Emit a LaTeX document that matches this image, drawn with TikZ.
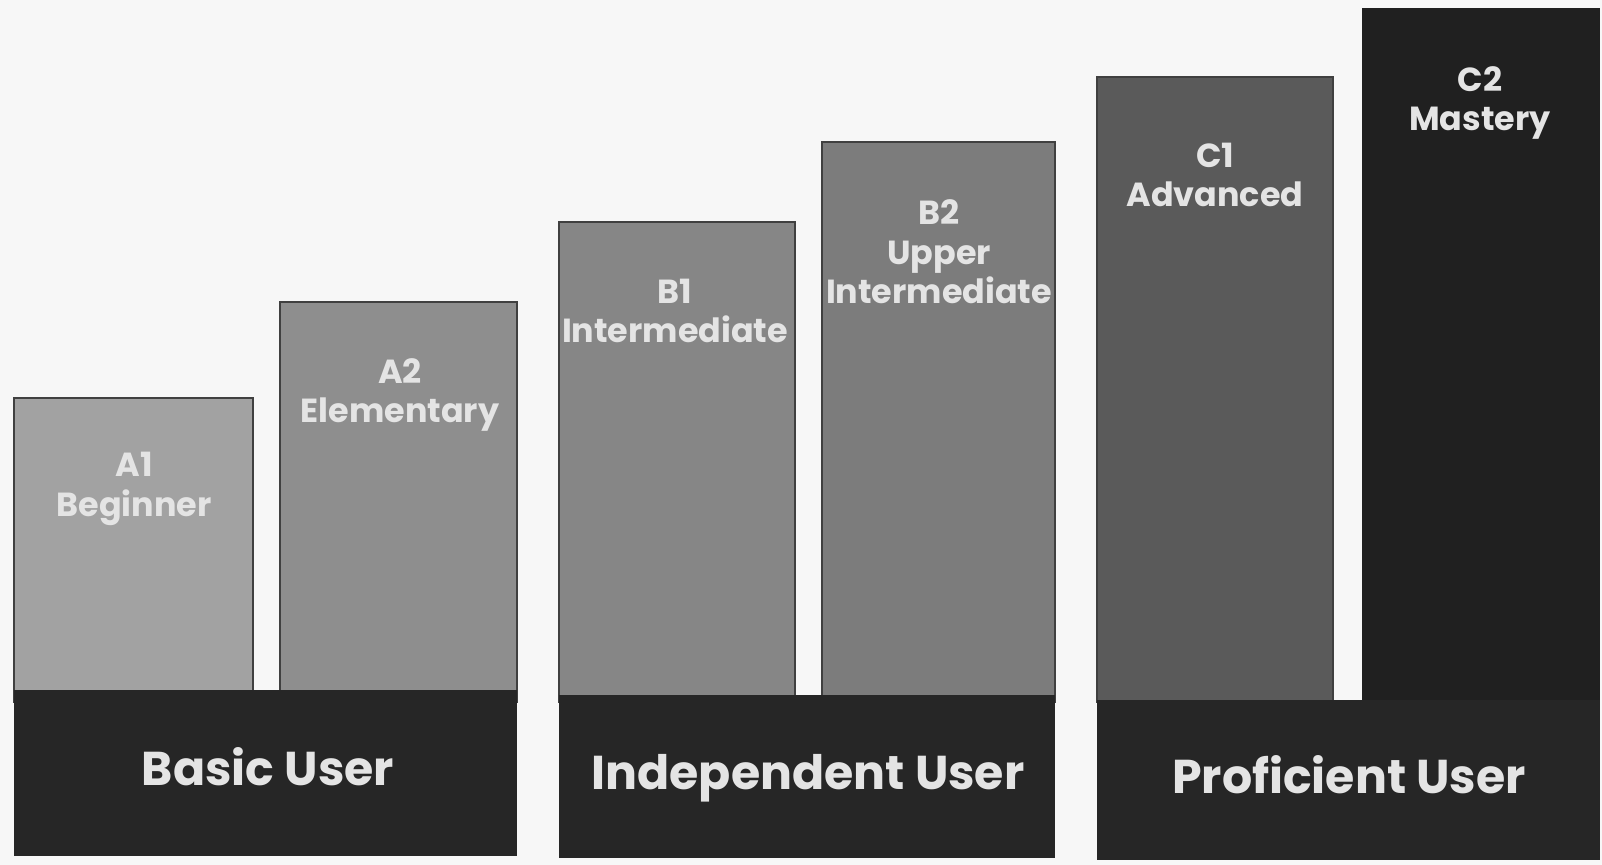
\documentclass[tikz,border=0pt]{standalone}
\usepackage{fontspec}
\setmainfont{Poppins}
\usepackage{tikz}
\usetikzlibrary{positioning}

\definecolor{paper}{HTML}{F7F7F7}
\definecolor{shadeAone}{HTML}{A2A2A2}
\definecolor{shadeAtwo}{HTML}{8E8E8E}
\definecolor{shadeBone}{HTML}{868686}
\definecolor{shadeBtwo}{HTML}{7C7C7C}
\definecolor{shadeCone}{HTML}{5A5A5A}
\definecolor{shadeCtwo}{HTML}{202020}
\definecolor{basefill}{HTML}{262626}
\definecolor{lettering}{HTML}{E4E4E4}

\tikzset{
  levelbox/.style={draw=black!75, line width=0.6pt},
  basebox/.style={fill=basefill, draw=basefill},
  leveltext/.style={text=lettering, align=center, font=\fontsize{19}{22.5}\selectfont\bfseries},
  usertext/.style={text=lettering, font=\fontsize{27}{30}\selectfont\bfseries}
}

\begin{document}
\begin{tikzpicture}[x=0.02cm, y=-0.02cm]
\useasboundingbox[fill=paper] (0,0) rectangle (1602,865);

% Colonne dei livelli
\foreach \xl/\xr/\top/\shade in {14/253/398/shadeAone, 280/517/302/shadeAtwo,
    559/795/222/shadeBone, 822/1055/142/shadeBtwo, 1097/1333/77/shadeCone} {
    \draw[levelbox, fill=\shade] (\xl,\top) rectangle (\xr,702); % Colonna
}
\fill[shadeCtwo] (1362,8) rectangle (1600,702); % Colonna C2

% Basi dei gruppi
\fill[basefill] (14,690) rectangle (517,856);
\fill[basefill] (559,695) rectangle (1055,858);
\fill[basefill] (1097,700) rectangle (1600,860);

% Etichette dei livelli
\node[leveltext] (A1) at (134,489) {A1\\Beginner};
\node[leveltext] (A2) at (400,395) {A2\\Elementary};
\node[leveltext] (B1) at (675,311) {B1\\Intermediate};
\node[leveltext] (B2) at (939,252) {B2\\Upper\\Intermediate};
\node[leveltext] (C1) at (1215,175) {C1\\Advanced};
\node[leveltext] (C2) at (1480,103) {C2\\Mastery};

% Etichette dei gruppi
\node[usertext] (basic) at (268,767) {Basic User};
\node[usertext] (independent) at (808,778) {Independent User};
\node[usertext] (proficient) at (1349,775) {Proficient User};

\end{tikzpicture}
\end{document}
